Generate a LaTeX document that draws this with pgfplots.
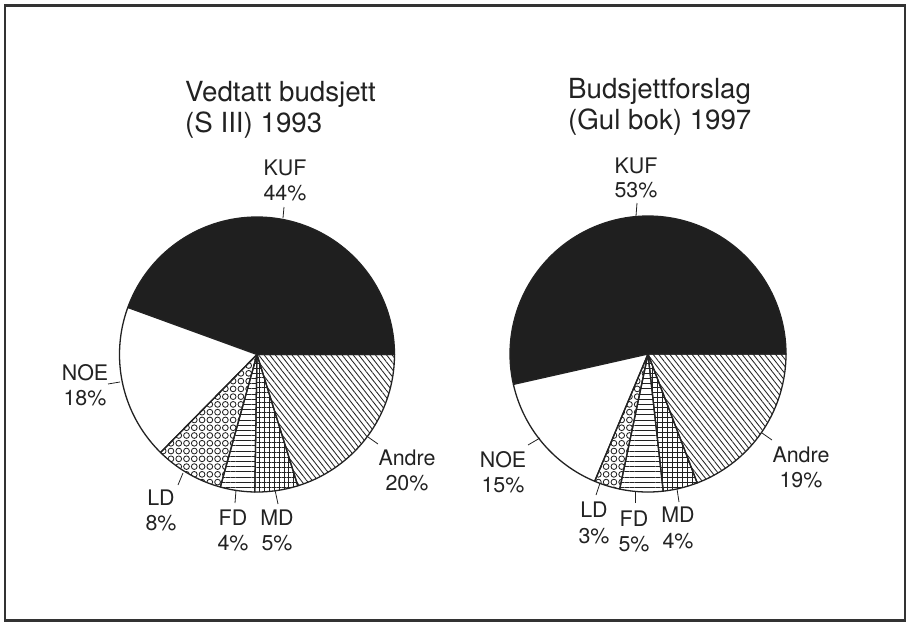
\documentclass[border=0pt]{standalone}
\usepackage{pgfplots}
\pgfplotsset{compat=1.18}
\usepackage{fontspec}
\setmainfont{TeX Gyre Heros}
\usetikzlibrary{patterns.meta}

\definecolor{ink}{HTML}{222222}

% small open circles, used for LD
\tikzdeclarepattern{
  name=rings,
  type=uncolored,
  bounding box={(-3.9pt,-3.9pt) and (3.9pt,3.9pt)},
  tile size={(7.8pt,7.8pt)},
  code={\pgfsetlinewidth{0.85pt}\pgfpathcircle{\pgfpointorigin}{2.9pt}\pgfusepath{stroke}}
}

\tikzset{
  pieedge/.style={draw=ink, line width=1.3pt, line join=round},
  kuf/.style={fill=black!88},
  noe/.style={fill=white},
  ld/.style={pattern=rings, pattern color=ink},
  fd/.style={pattern={Lines[angle=0,distance=5.2pt,line width=0.85pt]}, pattern color=ink},
  md/.style={pattern={Hatch[angle=0,distance=5pt,line width=0.85pt]}, pattern color=ink},
  andre/.style={pattern={Lines[angle=-52,distance=4.4pt,line width=0.85pt]}, pattern color=ink},
  lab/.style={font=\fontsize{21.5}{25}\selectfont, text=ink, anchor=base, inner sep=0pt},
  ttl/.style={font=\fontsize{27.8}{31}\selectfont, text=ink, anchor=base west, inner sep=0pt},
  lead/.style={draw=ink, line width=0.8pt},
}

% one slice: cx, cy, r, from angle, to angle, style
\newcommand{\pieslice}[6]{%
  \edef\doslice{\noexpand\addplot[pieedge,#6,domain=#4:#5,samples=90,variable=\noexpand\t]
    ({#1+#3*cos(\noexpand\t)},{#2-#3*sin(\noexpand\t)}) -- (axis cs:#1,#2) -- cycle;}%
  \doslice}

% whole pie: cx, cy, r, then KUF NOE LD FD MD Andre in percent
\newcommand{\drawpie}[9]{%
  \pgfmathsetmacro\ps{#4+#5+#6+#7+#8+#9}%
  \pgfmathsetmacro\aA{(#4/\ps)*360}%
  \pgfmathsetmacro\aB{\aA+(#5/\ps)*360}%
  \pgfmathsetmacro\aC{\aB+(#6/\ps)*360}%
  \pgfmathsetmacro\aD{\aC+(#7/\ps)*360}%
  \pgfmathsetmacro\aE{\aD+(#8/\ps)*360}%
  \pieslice{#1}{#2}{#3}{0}{\aA}{kuf}%
  \pieslice{#1}{#2}{#3}{\aA}{\aB}{noe}%
  \pieslice{#1}{#2}{#3}{\aB}{\aC}{ld}%
  \pieslice{#1}{#2}{#3}{\aC}{\aD}{fd}%
  \pieslice{#1}{#2}{#3}{\aD}{\aE}{md}%
  \pieslice{#1}{#2}{#3}{\aE}{360}{andre}%
}

\begin{document}
\begin{tikzpicture}
\begin{axis}[
  width=907bp, height=622bp, scale only axis,
  xmin=0, xmax=907, ymin=0, ymax=622, y dir=reverse,
  hide axis, clip=false,
]
  % frame
  \path (axis cs:0,0) rectangle (axis cs:907,622);
  \draw[line width=2.5pt, black!80] (axis cs:5,5.5) rectangle (axis cs:905,620.5);

  % Vedtatt budsjett 1993
  \drawpie{257}{354.5}{137.5}{44}{18}{8}{4}{5}{20}
  % Budsjettforslag 1997
  \drawpie{648}{354}{138}{53}{15}{3}{5}{4}{19}

  % titles
  \node[ttl] at (axis cs:185,101.5) {Vedtatt budsjett};
  \node[ttl] at (axis cs:185,132.5) {(S III) 1993};
  \node[ttl] at (axis cs:568,98.5) {Budsjettforslag};
  \node[ttl] at (axis cs:568,129.5) {(Gul bok) 1997};

  % labels, left pie
  \node[lab] at (axis cs:285,175) {KUF};
  \node[lab] at (axis cs:285,200) {44\%};
  \draw[lead] (axis cs:284,207) -- (axis cs:283,218);
  \node[lab] at (axis cs:85,380) {NOE};
  \node[lab] at (axis cs:85,405) {18\%};
  \draw[lead] (axis cs:108,384) -- (axis cs:120,382);
  \node[lab] at (axis cs:161,505) {LD};
  \node[lab] at (axis cs:161,530) {8\%};
  \draw[lead] (axis cs:178,485) -- (axis cs:183,473);
  \node[lab] at (axis cs:233,525) {FD};
  \node[lab] at (axis cs:233,550) {4\%};
  \draw[lead] (axis cs:235,503) -- (axis cs:236,490);
  \node[lab] at (axis cs:277,525) {MD};
  \node[lab] at (axis cs:277,550) {5\%};
  \draw[lead] (axis cs:278,504) -- (axis cs:275,490);
  \node[lab] at (axis cs:407,465) {Andre};
  \node[lab] at (axis cs:407,490) {20\%};
  \draw[lead] (axis cs:378,444) -- (axis cs:368,437);

  % labels, right pie
  \node[lab] at (axis cs:636,173) {KUF};
  \node[lab] at (axis cs:636,197) {53\%};
  \draw[lead] (axis cs:637,203) -- (axis cs:636,216);
  \node[lab] at (axis cs:503,467) {NOE};
  \node[lab] at (axis cs:503,492) {15\%};
  \draw[lead] (axis cs:528,445) -- (axis cs:540,438);
  \node[lab] at (axis cs:594,517) {LD};
  \node[lab] at (axis cs:594,543) {3\%};
  \draw[lead] (axis cs:596,495) -- (axis cs:600,483);
  \node[lab] at (axis cs:634,526) {FD};
  \node[lab] at (axis cs:634,551) {5\%};
  \draw[lead] (axis cs:635,503) -- (axis cs:635,492);
  \node[lab] at (axis cs:678,522) {MD};
  \node[lab] at (axis cs:678,548) {4\%};
  \draw[lead] (axis cs:679,502) -- (axis cs:677,489);
  \node[lab] at (axis cs:801,462) {Andre};
  \node[lab] at (axis cs:801,487) {19\%};
  \draw[lead] (axis cs:772,440) -- (axis cs:762,433);
\end{axis}
\end{tikzpicture}
\end{document}
